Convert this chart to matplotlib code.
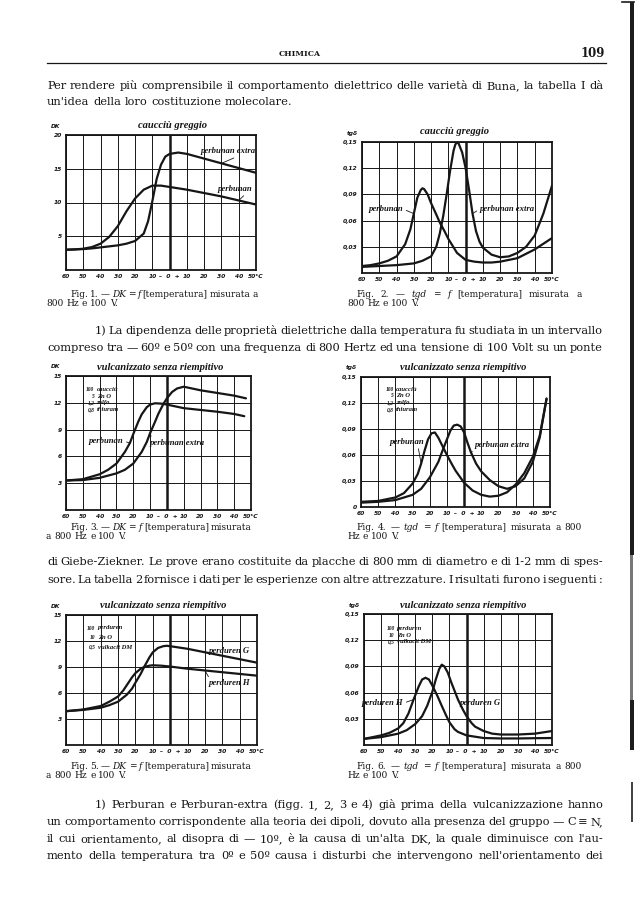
import matplotlib
matplotlib.use("Agg")
import matplotlib.pyplot as plt
from matplotlib.lines import Line2D
from matplotlib.patches import Rectangle

# ---- values (temperature in degrees C) ----

# Fig. 1: DK, caucciu greggio
f1_perbunan_t = [-60, -55, -50, -45, -40, -35, -30, -25, -20, -15, -10, -5, 0, 5, 10, 20, 30, 40, 50]
f1_perbunan = [3.0, 3.05, 3.15, 3.4, 3.9, 4.9, 6.5, 8.7, 10.6, 11.9, 12.5, 12.5, 12.3, 12.1, 11.9, 11.4, 10.9, 10.3, 9.7]
f1_extra_t = [-60, -55, -50, -45, -40, -35, -30, -25, -20, -15, -12.5, -10, -7.5, -5, -2.5, 0, 5, 10, 20, 30, 40, 50]
f1_extra = [3.0, 3.05, 3.1, 3.2, 3.35, 3.5, 3.65, 3.9, 4.3, 5.4, 7.2, 10.2, 13.5, 15.6, 16.8, 17.2, 17.4, 17.2, 16.5, 15.8, 15.1, 14.4]

# Fig. 2: tg delta, caucciu greggio
f2_perbunan_t = [-60, -55, -50, -45, -40, -35, -32, -30, -28, -26, -25, -24, -22, -20, -17, -15, -12, -10, -5, 0, 5, 10, 15, 20, 30, 40, 50]
f2_perbunan = [0.008, 0.009, 0.011, 0.014, 0.019, 0.033, 0.05, 0.068, 0.086, 0.095, 0.097, 0.096, 0.09, 0.08, 0.067, 0.058, 0.047, 0.039, 0.023, 0.015, 0.013, 0.012, 0.012, 0.013, 0.017, 0.027, 0.040]
f2_extra_t = [-60, -50, -40, -30, -25, -20, -17, -15, -13, -11, -9, -7, -6, -5, -4, -2, 0, 2, 4, 6, 8, 10, 15, 20, 25, 30, 35, 40, 45, 50]
f2_extra = [0.007, 0.008, 0.009, 0.011, 0.014, 0.019, 0.03, 0.045, 0.065, 0.09, 0.117, 0.14, 0.147, 0.15, 0.148, 0.138, 0.12, 0.095, 0.068, 0.048, 0.036, 0.029, 0.021, 0.018, 0.019, 0.023, 0.03, 0.043, 0.068, 0.10]

# Fig. 3: DK, vulcanizzato senza riempitivo
f3_perbunan_t = [-60, -50, -40, -35, -30, -25, -22, -20, -17, -15, -12, -10, -7, -3, 0, 10, 20, 30, 40, 46]
f3_perbunan = [3.3, 3.45, 4.0, 4.5, 5.2, 6.5, 7.5, 8.5, 9.9, 10.7, 11.5, 11.8, 11.95, 11.9, 11.8, 11.4, 11.2, 11.0, 10.75, 10.5]
f3_extra_t = [-60, -50, -40, -30, -25, -20, -15, -12, -10, -7, -5, -2, 0, 3, 6, 10, 15, 20, 30, 40, 47]
f3_extra = [3.3, 3.35, 3.6, 4.1, 4.5, 5.2, 6.5, 7.6, 8.6, 9.9, 10.8, 11.9, 12.5, 13.2, 13.6, 13.8, 13.6, 13.4, 13.1, 12.8, 12.5]

# Fig. 4: tg delta, vulcanizzato senza riempitivo
f4_perbunan_t = [-60, -50, -40, -35, -30, -27, -25, -23, -21, -19, -17, -15, -13, -10, -7, -5, 0, 5, 10, 15, 20, 25, 30, 35, 40, 44, 48]
f4_perbunan = [0.006, 0.007, 0.011, 0.016, 0.027, 0.038, 0.05, 0.065, 0.078, 0.085, 0.086, 0.08, 0.072, 0.06, 0.049, 0.042, 0.028, 0.019, 0.014, 0.012, 0.013, 0.017, 0.026, 0.039, 0.058, 0.082, 0.125]
f4_extra_t = [-60, -50, -40, -30, -25, -20, -15, -12, -10, -8, -6, -4, -2, 0, 2, 4, 7, 10, 15, 20, 25, 30, 35, 40, 44, 48]
f4_extra = [0.005, 0.006, 0.008, 0.014, 0.021, 0.034, 0.052, 0.068, 0.078, 0.088, 0.094, 0.095, 0.093, 0.086, 0.074, 0.063, 0.05, 0.041, 0.031, 0.024, 0.021, 0.024, 0.033, 0.052, 0.08, 0.125]

# Fig. 5: DK, perduren
f5_h_t = [-60, -50, -40, -35, -30, -27, -25, -22, -20, -17, -15, -12, -10, -5, 0, 10, 20, 30, 40, 50]
f5_h = [3.9, 4.1, 4.5, 5.0, 5.6, 6.3, 6.9, 7.8, 8.3, 8.8, 9.0, 9.15, 9.2, 9.15, 9.05, 8.8, 8.6, 8.4, 8.2, 8.0]
f5_g_t = [-60, -50, -40, -35, -30, -25, -22, -20, -17, -15, -12, -10, -7, -4, -2, 0, 10, 20, 30, 40, 50]
f5_g = [3.9, 4.05, 4.3, 4.6, 5.0, 5.8, 6.5, 7.2, 8.2, 9.0, 10.1, 10.7, 11.2, 11.4, 11.45, 11.4, 11.1, 10.7, 10.3, 9.9, 9.5]

# Fig. 6: tg delta, perduren
f6_h_t = [-60, -55, -50, -45, -40, -37, -34, -31, -28, -26, -24, -22, -20, -17, -15, -12, -10, -7, -5, 0, 10, 20, 30, 40, 50]
f6_h = [0.007, 0.009, 0.011, 0.014, 0.019, 0.025, 0.036, 0.052, 0.067, 0.075, 0.077, 0.075, 0.068, 0.056, 0.047, 0.034, 0.026, 0.018, 0.015, 0.011, 0.008, 0.0075, 0.0075, 0.0078, 0.008]
f6_g_t = [-60, -50, -40, -35, -30, -26, -23, -20, -18, -16, -14.5, -13, -11, -9, -7, -5, -2, 0, 3, 5, 10, 15, 20, 30, 40, 50]
f6_g = [0.007, 0.009, 0.013, 0.017, 0.024, 0.033, 0.045, 0.061, 0.075, 0.087, 0.092, 0.09, 0.083, 0.072, 0.062, 0.052, 0.04, 0.033, 0.025, 0.021, 0.016, 0.013, 0.012, 0.012, 0.013, 0.016]

x_ticks = [-60, -50, -40, -30, -20, -10, 0, 10, 20, 30, 40, 50]
x_ticklabels = ['60', '50', '40', '30', '20', '10', '–  0  +', '10', '20', '30', '40', '50°C']
dk_ticks_20 = [5, 10, 15, 20]
dk_labels_20 = ['5', '10', '15', '20']
dk_ticks_15 = [3, 6, 9, 12, 15]
dk_labels_15 = ['3', '6', '9', '12', '15']
tg_ticks = [0.03, 0.06, 0.09, 0.12, 0.15]
tg_labels = ['0,03', '0,06', '0,09', '0,12', '0,15']
tg_ticks0 = [0, 0.03, 0.06, 0.09, 0.12, 0.15]
tg_labels0 = ['0', '0,03', '0,06', '0,09', '0,12', '0,15']

legend_perbunan = [('100', 'caucciù'), ('5', 'Zn O'), ('1,2', 'zolfo'), ('0,8', 'thiuram')]
legend_perduren = [('100', 'perduren'), ('10', 'Zn O'), ('0,5', 'vulkacit DM')]

# ---- page layout (pixels) ----
W, H = 635, 900
INK = '#161616'
fig = plt.figure(figsize=(W / 100, H / 100), dpi=100)
fig.patch.set_facecolor('white')
renderer = fig.canvas.get_renderer()

BODY = ['DejaVu Serif', 'DejaVu Sans']
HAND = dict(family='Liberation Serif', style='italic', weight='bold', color=INK)


def ftext(x, y, s, **kw):
    kw.setdefault('color', INK)
    return fig.text(x / W, 1 - y / H, s, **kw)


def word_widths(words, size):
    out = []
    for w in words:
        style = 'italic' if w.startswith('_') else 'normal'
        t = ftext(0, 0, w.lstrip('_'), fontsize=size, family=BODY, style=style)
        out.append(t.get_window_extent(renderer).width)
        t.remove()
    return out


def common_size(lines, size, min_gap):
    # largest size at which every justified line still fits its measure
    best = size
    for line, x0, x1 in lines:
        words = line.split()
        natural = sum(word_widths(words, size))
        room = x1 - x0 - (len(words) - 1) * min_gap
        best = min(best, size * room / natural)
    return best


def justify(line, x0, x1, y, size):
    words = line.split()
    widths = word_widths(words, size)
    gap = (x1 - x0 - sum(widths)) / max(len(words) - 1, 1)
    x = x0
    for w, wd in zip(words, widths):
        style = 'italic' if w.startswith('_') else 'normal'
        ftext(x, y, w.lstrip('_'), fontsize=size, family=BODY, style=style, va='baseline')
        x += wd + gap


def plain(line, x0, y, size):
    words = line.split()
    x = x0
    for w, wd in zip(words, word_widths(words, size)):
        style = 'italic' if w.startswith('_') else 'normal'
        ftext(x, y, w.lstrip('_'), fontsize=size, family=BODY, style=style, va='baseline')
        x += wd + size * 0.45


def chart(box, ymax, yticks, ylabels, yname, title, title_xy, curves, notes, legend, legend_xy):
    x0, y0, x1, y1 = box
    ax = fig.add_axes([x0 / W, 1 - y1 / H, (x1 - x0) / W, (y1 - y0) / H])
    ax.set_xlim(-60, 50)
    ax.set_ylim(0, ymax)
    ax.set_xticks(x_ticks, x_ticklabels)
    ax.set_yticks(yticks, ylabels)
    ax.grid(True, color=INK, lw=0.7)
    ax.axvline(0, color=INK, lw=1.8)
    ax.tick_params(length=0, pad=3, labelsize=4.3, colors=INK)
    for lbl in ax.get_xticklabels() + ax.get_yticklabels():
        lbl.set_fontstyle('italic')
        lbl.set_fontweight('bold')
    for sp in ax.spines.values():
        sp.set_linewidth(1.3)
        sp.set_color(INK)
    for t, v in curves:
        ax.plot(t, v, color=INK, lw=1.6, solid_capstyle='round')
    for label, (lx, ly), (t, v, i), rel in notes:
        ax.annotate(label, xy=(t[i], v[i]), xytext=(lx, ly), ha='center', va='center',
                    fontsize=6.2, arrowprops=dict(arrowstyle='-', lw=0.6, color=INK,
                                                  relpos=rel, shrinkA=0, shrinkB=0), **HAND)
    if legend:
        lx, ly, dy = legend_xy
        for k, (num, name) in enumerate(legend):
            ax.text(lx, ly - k * dy, num, ha='right', va='center', fontsize=4.0, **HAND)
            ax.text(lx + 1.2, ly - k * dy, name, ha='left', va='center', fontsize=4.8, **HAND)
    ftext(title_xy[0], title_xy[1], title, ha='center', va='center', fontsize=7.6, **HAND)
    ftext(x0 - 10, y0 - 9, yname, ha='center', va='center', fontsize=4.2,
          style='italic', weight='bold')
    return ax


chart((66, 135, 256, 270), 20, dk_ticks_20, dk_labels_20, 'DK', 'caucciù greggio', (172, 125),
      [(f1_perbunan_t, f1_perbunan), (f1_extra_t, f1_extra)],
      [('perbunan extra', (34, 17.6), (f1_extra_t, f1_extra, 19), (0.75, 0.1)),
       ('perbunan', (38, 12.0), (f1_perbunan_t, f1_perbunan, 17), (0.85, 0.1))],
      None, None)

chart((362, 142, 552, 273), 0.15, tg_ticks, tg_labels, 'tgδ', 'caucciù greggio', (455, 132),
      [(f2_perbunan_t, f2_perbunan), (f2_extra_t, f2_extra)],
      [('perbunan', (-46, 0.073), (f2_perbunan_t, f2_perbunan, 7), (1.0, 0.5)),
       ('perbunan extra', (24, 0.073), (f2_extra_t, f2_extra, 18), (0.0, 0.5))],
      None, None)

chart((66, 376, 251, 510), 15, dk_ticks_15, dk_labels_15, 'DK', 'vulcanizzato senza riempitivo', (160, 367),
      [(f3_perbunan_t, f3_perbunan), (f3_extra_t, f3_extra)],
      [('perbunan', (-36, 7.7), (f3_perbunan_t, f3_perbunan, 6), (1.0, 0.5)),
       ('perbunan extra', (6, 7.5), (f3_extra_t, f3_extra, 8), (0.05, 0.9))],
      legend_perbunan, (-43, 13.5, 0.75))

chart((361, 377, 550, 507), 0.15, tg_ticks0, tg_labels0, 'tgδ', 'vulcanizzato senza riempitivo', (463, 368),
      [(f4_perbunan_t, f4_perbunan), (f4_extra_t, f4_extra)],
      [('perbunan', (-33, 0.075), (f4_perbunan_t, f4_perbunan, 6), (0.8, 0.1)),
       ('perbunan extra', (22, 0.072), (f4_extra_t, f4_extra, 15), (0.05, 0.1))],
      legend_perbunan, (-41, 0.136, 0.0078))

chart((66, 615, 257, 745), 15, dk_ticks_15, dk_labels_15, 'DK', 'vulcanizzato senza riempitivo', (163, 605),
      [(f5_h_t, f5_h), (f5_g_t, f5_g)],
      [('perduren G', (34, 10.9), (f5_g_t, f5_g, 17), (0.05, 0.1)),
       ('perduren H', (34, 7.1), (f5_h_t, f5_h, 16), (0.05, 0.9))],
      legend_perduren, (-43, 13.5, 1.1))

chart((364, 614, 552, 745), 0.15, tg_ticks, tg_labels, 'tgδ', 'vulcanizzato senza riempitivo', (463, 605),
      [(f6_h_t, f6_h), (f6_g_t, f6_g)],
      [('perduren H', (-49, 0.048), (f6_h_t, f6_h, 7), (1.0, 0.5)),
       ('perduren G', (8, 0.048), (f6_g_t, f6_g, 15), (0.0, 0.5))],
      legend_perduren, (-42, 0.133, 0.0075))

# ---- running head ----
ftext(300, 56, 'CHIMICA', ha='center', va='baseline', fontsize=5.6, family=BODY, weight='bold')
ftext(605, 57, '109', ha='right', va='baseline', fontsize=8.5, family=BODY, weight='bold')
fig.add_artist(Line2D([47 / W, 606 / W], [1 - 63 / H] * 2, color=INK, lw=0.9))

# ---- body text (justified) ----
R = 603
body = [
    ("Per rendere più comprensibile il comportamento dielettrico delle varietà di Buna, la tabella I dà", 47, R, 89),
    ("1) La dipendenza delle proprietà dielettriche dalla temperatura fu studiata in un intervallo", 95, R, 334),
    ("compreso tra — 60º e 50º con una frequenza di 800 Hertz ed una tensione di 100 Volt su un ponte", 47, R, 351),
    ("di Giebe-Ziekner. Le prove erano costituite da placche di 800 mm di diametro e di 1-2 mm di spes-", 47, R, 565),
    ("sore. La tabella 2 fornisce i dati per le esperienze con altre attrezzature. I risultati furono i seguenti :", 47, R, 583),
    ("1) Perburan e Perburan-extra (figg. 1, 2, 3 e 4) già prima della vulcanizzazione hanno", 95, R, 808),
    ("un comportamento corrispondente alla teoria dei dipoli, dovuto alla presenza del gruppo — C ≡ N,", 47, R, 825),
    ("il cui orientamento, al disopra di — 10º, è la causa di un'alta DK, la quale diminuisce con l'au-", 47, R, 842),
    ("mento della temperatura tra 0º e 50º causa i disturbi che intervengono nell'orientamento dei", 47, R, 859),
]
BS = common_size([(l, a, b) for l, a, b, _ in body], 9.0, 2.0)
for line, a, b, y in body:
    justify(line, a, b, y, BS)
plain("un'idea della loro costituzione molecolare.", 47, 105, BS)

# ---- figure captions ----
captions = [
    ("Fig. 1. — _DK = _f [temperatura] misurata a", 70, 258, 297, "800 Hz e 100 V.", 46),
    ("Fig. 2. — _tgd = _f [temperatura] misurata a", 356, 582, 297, "800 Hz e 100 V.", 347),
    ("Fig. 3. — _DK = _f [temperatura] misurata", 70, 252, 530, "a 800 Hz e 100 V.", 46),
    ("Fig. 4. — _tgd = _f [temperatura] misurata a 800", 356, 582, 530, "Hz e 100 V.", 347),
    ("Fig. 5. — _DK = _f [temperatura] misurata", 70, 252, 769, "a 800 Hz e 100 V.", 46),
    ("Fig. 6. — _tgd = _f [temperatura] misurata a 800", 356, 582, 769, "Hz e 100 V.", 347),
]
CS = common_size([(c[0], c[1], c[2]) for c in captions], 6.8, 2.0)
for first, a, b, y, second, a2 in captions:
    justify(first, a, b, y, CS)
    plain(second, a2, y + 9, CS)

# ---- dark edge of the scanned sheet ----
fig.add_artist(Rectangle((630 / W, 1 - 555 / H), 4 / W, 553 / H, color='#1c1c1c', lw=0))
fig.add_artist(Rectangle((630 / W, 1 - 700 / H), 3 / W, 145 / H, color='#777777', lw=0))
fig.add_artist(Rectangle((630 / W, 1 - 750 / H), 4 / W, 50 / H, color='#1c1c1c', lw=0))
fig.add_artist(Rectangle((631 / W, 1 - 822 / H), 2 / W, 40 / H, color='#444444', lw=0))
fig.add_artist(Line2D([622 / W, 634 / W], [1 - 2 / H] * 2, color='#1c1c1c', lw=1.2))

fig.savefig('out.png', dpi=100, facecolor='white')
